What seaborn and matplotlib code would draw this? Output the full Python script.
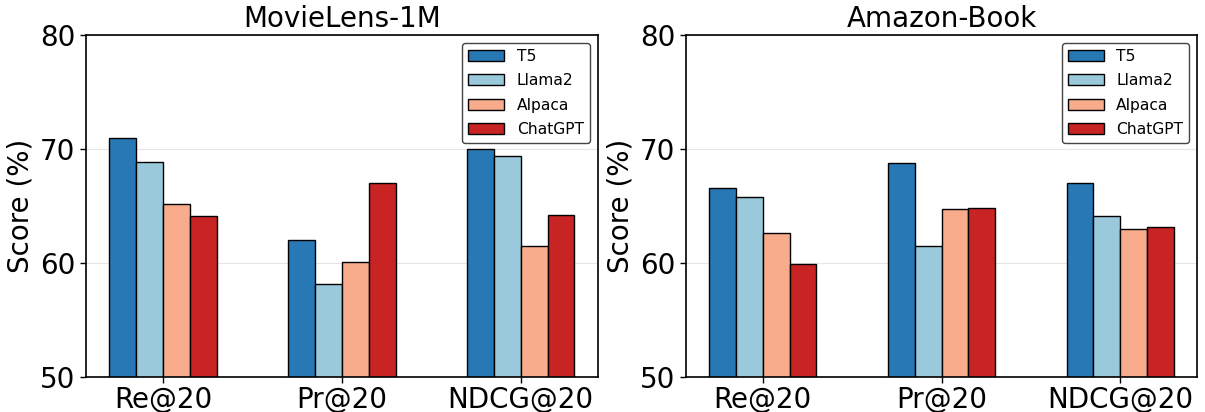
import pandas as pd
import seaborn as sns
import matplotlib.pyplot as plt

metrics = ["Re@20", "Pr@20", "NDCG@20"]
models = ["T5", "Llama2", "Alpaca", "ChatGPT"]
colors = ["#2878B5", "#9AC9DB", "#F8AC8C", "#C82423"]

# scores per model, in metric order
ml1m = {
    "T5": [71.0, 62.0, 70.0],
    "Llama2": [68.9, 58.2, 69.4],
    "Alpaca": [65.2, 60.1, 61.5],
    "ChatGPT": [64.1, 67.0, 64.2],
}
book = {
    "T5": [66.6, 68.8, 67.0],
    "Llama2": [65.8, 61.5, 64.1],
    "Alpaca": [62.6, 64.7, 63.0],
    "ChatGPT": [59.9, 64.8, 63.2],
}


def to_long(scores):
    rows = []
    for m in models:
        for metric, v in zip(metrics, scores[m]):
            rows.append({"metric": metric, "model": m, "score": v})
    return pd.DataFrame(rows)


sns.set_style("whitegrid", {"axes.edgecolor": "black", "grid.color": "#e6e6e6",
                            "text.color": "black", "axes.labelcolor": "black",
                            "xtick.color": "black", "ytick.color": "black"})
plt.rcParams["font.family"] = ["DejaVu Sans"]

fig = plt.figure(figsize=(12.05, 4.12), dpi=100)
axes = [fig.add_axes([0.0714, 0.085, 0.4246, 0.830]),
        fig.add_axes([0.5693, 0.085, 0.4241, 0.830])]

for ax, data, title in zip(axes, [ml1m, book], ["MovieLens-1M", "Amazon-Book"]):
    df = to_long(data)
    sns.barplot(data=df, x="metric", y="score", hue="model", order=metrics,
                hue_order=models, palette=colors, saturation=1, width=0.6,
                edgecolor="black", linewidth=1, ax=ax)
    ax.set_ylim(50, 80)
    ax.set_yticks([50, 60, 70, 80])
    ax.set_xlim(-0.43, 2.43)
    ax.set_title(title, fontsize=20, color="black")
    ax.set_ylabel("Score (%)", fontsize=20, color="black")
    ax.set_xlabel("")
    ax.tick_params(axis="both", labelsize=20, length=4, width=1, left=True, bottom=True,
                   colors="black")
    ax.tick_params(axis="x", pad=2.5)
    ax.grid(axis="x", visible=False)
    ax.grid(axis="y", linewidth=0.8)
    for s in ax.spines.values():
        s.set_linewidth(1.2)
    leg = ax.legend(loc="upper right", fontsize=11.2, frameon=True, edgecolor="#444444",
                    fancybox=True, framealpha=1, handlelength=2.3, labelspacing=0.6)
    for t in leg.get_texts():
        t.set_color("black")

fig.savefig("out.png", dpi=100)
